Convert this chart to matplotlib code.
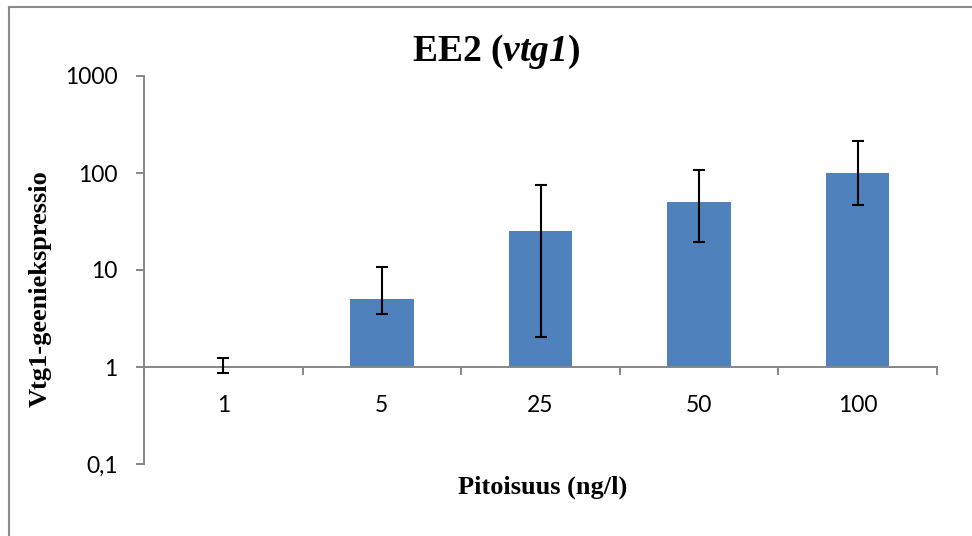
import matplotlib
matplotlib.use("Agg")
import matplotlib.pyplot as plt
from matplotlib.lines import Line2D
from matplotlib.ticker import FixedLocator, FixedFormatter, NullFormatter
import numpy as np

# Data
categories = ["1", "5", "25", "50", "100"]
values = [1.0, 5.0, 25.0, 50.0, 100.0]
err_low = [0.87, 3.5, 2.05, 19.6, 47.0]   # lower end of error bar
err_high = [1.25, 10.8, 75.0, 108.0, 214.0]  # upper end of error bar
y_ticks = [0.1, 1, 10, 100, 1000]
y_tick_labels = ["0,1", "1", "10", "100", "1000"]

plt.rcParams['mathtext.fontset'] = 'custom'
plt.rcParams['mathtext.rm'] = 'Liberation Serif:bold'
plt.rcParams['mathtext.bf'] = 'Liberation Serif:bold'
plt.rcParams['mathtext.it'] = 'Liberation Serif:italic:bold'
plt.rcParams['mathtext.bfit'] = 'Liberation Serif:italic:bold'

W, H = 972, 536
fig = plt.figure(figsize=(W / 100, H / 100), dpi=100)
ax = fig.add_axes([144 / W, 1 - 464 / H, (937 - 144) / W, (464 - 76) / H])

axis_col = "#868686"
bar_col = "#4F81BD"

x = np.arange(len(categories))
vals = np.array(values)
ax.bar(x, vals - 1, bottom=1, width=0.4, color=bar_col, zorder=2)
lo = vals - np.array(err_low)
hi = np.array(err_high) - vals
ax.errorbar(x, vals, yerr=[lo, hi], fmt='none', ecolor='black', elinewidth=1.5,
            capsize=4.3, capthick=1.5, zorder=3)

ax.set_yscale('log')
ax.set_ylim(0.1, 1000)
ax.set_xlim(-0.5, len(categories) - 0.5)

ax.yaxis.set_major_locator(FixedLocator(y_ticks))
ax.yaxis.set_major_formatter(FixedFormatter(y_tick_labels))
ax.yaxis.set_minor_locator(FixedLocator([]))
ax.yaxis.set_minor_formatter(NullFormatter())

ax.set_xticks(x)
ax.set_xticklabels(categories)
ax.set_xticks(np.arange(len(categories) + 1) - 0.5, minor=True)

for s in ['top', 'right']:
    ax.spines[s].set_visible(False)
ax.spines['bottom'].set_position(('data', 1))
for s in ['left', 'bottom']:
    ax.spines[s].set_color(axis_col)
    ax.spines[s].set_linewidth(1.4)

ax.tick_params(axis='y', which='major', length=6, width=1.4, color=axis_col,
               pad=13, labelsize=16.5, labelcolor='black')
ax.tick_params(axis='x', which='major', length=0, pad=20, labelsize=16.5)
ax.tick_params(axis='x', which='minor', length=6, width=1.4, color=axis_col,
               direction='out')
for lab in ax.get_xticklabels() + ax.get_yticklabels():
    lab.set_fontfamily('Lato')

fig.text(496 / W, 1 - 52 / H, r"EE2 ($\mathbfit{vtg1}$)", ha='center', va='center',
         fontfamily='Liberation Serif', fontweight='bold', fontsize=27)
fig.text(543 / W, 1 - 487 / H, "Pitoisuus (ng/l)", ha='center', va='center',
         fontfamily='Liberation Serif', fontweight='bold', fontsize=19)
fig.text(40 / W, 1 - 289 / H, "Vtg1-geeniekspressio", ha='center', va='center',
         rotation=90, fontfamily='Liberation Serif', fontweight='bold', fontsize=19)

# Outer chart frame (partly cropped in reference)
frame_col = "#898989"
fig.add_artist(Line2D([8.5 / W, 1.0], [1 - 6.5 / H, 1 - 6.5 / H],
                      transform=fig.transFigure, color=frame_col, linewidth=1.5))
fig.add_artist(Line2D([8.5 / W, 8.5 / W], [0.0, 1 - 6.5 / H],
                      transform=fig.transFigure, color=frame_col, linewidth=1.5))

fig.savefig("out.png", dpi=100)
